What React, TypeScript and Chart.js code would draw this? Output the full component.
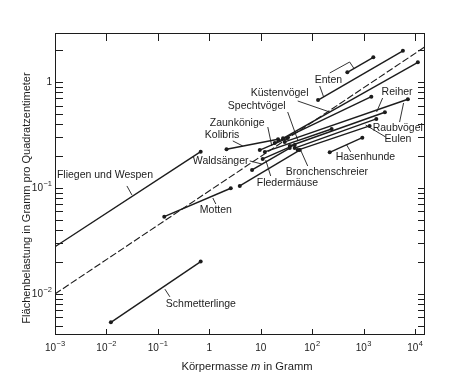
import { useEffect, useRef } from 'react';
import { Chart, registerables } from 'chart.js';

Chart.register(...registerables);

// ---- axis ticks ----
const xTickValues = [0.001, 0.01, 0.1, 1, 10, 100, 1000, 10000];
const xTickBase = ['10', '10', '10', '1', '10', '10', '10', '10'];
const xTickExp = ['−3', '−2', '−1', '', '', '2', '3', '4'];
const yTickValues = [0.01, 0.1, 1];
const yTickBase = ['10', '10', '1'];
const yTickExp = ['−2', '−1', ''];
const yMinorValues = [0.005, 0.006, 0.007, 0.008, 0.009, 0.02, 0.03, 0.04, 0.05, 0.06, 0.07, 0.08, 0.09, 0.2, 0.3, 0.4, 0.5, 0.6, 0.7, 0.8, 0.9, 2];

// ---- data: body mass (g) and wing loading (g/cm²) at the ends of each group line ----
const groupNames = [
  'Fliegen und Wespen', 'Schmetterlinge', 'Motten', 'Kolibris', 'Zaunkönige', 'Waldsänger',
  'Fledermäuse', 'Bronchenschreier', 'Küstenvögel', 'Spechtvögel', 'Spechtvögel 2', 'Raubvögel',
  'Reiher', 'Eulen', 'Eulen 2', 'Hasenhunde', 'Enten', 'Enten 2',
];
const groupMass = [
  [0.001, 0.68], [0.0122, 0.68], [0.133, 2.61], [2.16, 21.7], [9.57, 33.4], [10.9, 45.7],
  [3.91, 57.2], [6.78, 36.6], [27.1, 11330], [18.7, 1412], [12.0, 239], [29.2, 7250],
  [36.6, 2590], [45.7, 1765], [52.3, 1309], [219, 944], [130, 5800], [482, 1543],
];
const groupLoad = [
  [0.0279, 0.22], [0.0054, 0.0202], [0.0536, 0.0994], [0.232, 0.288], [0.228, 0.296], [0.188, 0.255],
  [0.1045, 0.228], [0.148, 0.238], [0.294, 1.535], [0.266, 0.727], [0.219, 0.36], [0.272, 0.687],
  [0.249, 0.518], [0.238, 0.448], [0.228, 0.385], [0.217, 0.298], [0.676, 1.97], [1.235, 1.71],
];
// first point of Fliegen und Wespen lies on the axis, no dot there
const groupStartDot = [false, true, true, true, true, true, true, true, true, true, true, true, true, true, true, true, true, true];

// dashed reference line
const refMass = [0.001, 15600];
const refLoad = [0.01, 2.15];

// ---- labels (left-anchored, in data coordinates) ----
const labelTexts = [
  'Fliegen und Wespen', 'Schmetterlinge', 'Motten', 'Waldsänger', 'Kolibris', 'Zaunkönige',
  'Spechtvögel', 'Küstenvögel', 'Enten', 'Reiher', 'Raubvögel', 'Eulen', 'Hasenhunde',
  'Bronchenschreier', 'Fledermäuse',
];
const labelMass = [0.00109, 0.143, 0.655, 0.479, 0.818, 1.02, 2.29, 6.39, 112, 2238, 1496, 2557, 286, 30.6, 8.36];
const labelLoad = [0.1327, 0.00805, 0.062, 0.18, 0.316, 0.41, 0.594, 0.787, 1.044, 0.805, 0.368, 0.29, 0.196, 0.1416, 0.1114];

// ---- leader lines (polyline points in data coordinates) ----
const leaderMass = [
  [0.025, 0.0313], [0.137, 0.171], [1.17, 1.337], [6.11, 10.45], [2.86, 4.47], [13.7, 16.4],
  [33.4, 52.3], [81.8, 57.2], [15.6, 12.5], [52.3, 219], [219, 535, 640], [140, 167],
  [2339, 1787], [5000, 5980], [2673, 1094], [560, 468],
];
const leaderLoad = [
  [0.1045, 0.0859], [0.0111, 0.0094], [0.0805, 0.0706], [0.18, 0.1684], [0.278, 0.249], [0.376, 0.249],
  [0.521, 0.284], [0.1613, 0.238], [0.1298, 0.1837], [0.662, 0.521], [1.216, 1.544, 1.355], [0.917, 0.722],
  [0.706, 0.521], [0.419, 0.634], [0.303, 0.393], [0.219, 0.255],
];

const INK = '#1c1c1c';
const FONT = '"Liberation Sans", Arial, Helvetica, sans-serif';

function drawPower(ctx: any, base: string, exp: string, x: number, y: number, align: 'center' | 'right') {
  ctx.font = `10px ${FONT}`;
  const wb = ctx.measureText(base).width;
  ctx.font = `7.5px ${FONT}`;
  const we = exp ? ctx.measureText(exp).width + 0.5 : 0;
  const w = wb + we;
  const x0 = align === 'center' ? x - w / 2 : x - w;
  ctx.textAlign = 'left';
  ctx.textBaseline = 'middle';
  ctx.font = `10px ${FONT}`;
  ctx.fillText(base, x0, y);
  if (exp) {
    ctx.font = `7.5px ${FONT}`;
    ctx.fillText(exp, x0 + wb + 0.5, y - 4);
  }
}

const annotPlugin = {
  id: 'annot',
  afterDatasetsDraw(chart: any) {
    const { ctx, chartArea: a, scales } = chart;
    const xs = scales.x;
    const ys = scales.y;
    ctx.save();
    ctx.strokeStyle = INK;
    ctx.fillStyle = INK;
    ctx.lineWidth = 1;
    // frame
    ctx.strokeRect(a.left + 0.5, a.top + 0.5, a.right - a.left - 1, a.bottom - a.top - 1);
    // x ticks (bottom & top, inward)
    ctx.beginPath();
    xTickValues.forEach((v) => {
      const px = Math.round(xs.getPixelForValue(v)) + 0.5;
      ctx.moveTo(px, a.bottom);
      ctx.lineTo(px, a.bottom - 6);
      ctx.moveTo(px, a.top);
      ctx.lineTo(px, a.top + 8);
    });
    // y ticks (left & right, inward)
    [...yTickValues, ...yMinorValues].forEach((v) => {
      const py = Math.round(ys.getPixelForValue(v)) + 0.5;
      ctx.moveTo(a.left, py);
      ctx.lineTo(a.left + 8, py);
      ctx.moveTo(a.right, py);
      ctx.lineTo(a.right - 7, py);
    });
    ctx.stroke();
    // tick labels
    xTickValues.forEach((v, i) => {
      drawPower(ctx, xTickBase[i], xTickExp[i], xs.getPixelForValue(v), a.bottom + 13, 'center');
    });
    yTickValues.forEach((v, i) => {
      drawPower(ctx, yTickBase[i], yTickExp[i], a.left - 3, ys.getPixelForValue(v), 'right');
    });
    // leaders
    ctx.lineWidth = 0.9;
    leaderMass.forEach((ms, i) => {
      ctx.beginPath();
      ms.forEach((m, j) => {
        const px = xs.getPixelForValue(m);
        const py = ys.getPixelForValue(leaderLoad[i][j]);
        if (j === 0) ctx.moveTo(px, py);
        else ctx.lineTo(px, py);
      });
      ctx.stroke();
    });
    // labels
    ctx.font = `10.5px ${FONT}`;
    ctx.textAlign = 'left';
    ctx.textBaseline = 'middle';
    labelTexts.forEach((t, i) => {
      ctx.fillText(t, xs.getPixelForValue(labelMass[i]), ys.getPixelForValue(labelLoad[i]));
    });
    // y title
    ctx.font = `11px ${FONT}`;
    ctx.textAlign = 'center';
    ctx.save();
    ctx.translate(a.left - 28, (a.top + a.bottom) / 2 + 14);
    ctx.rotate(-Math.PI / 2);
    ctx.fillText('Flächenbelastung in Gramm pro Quadratzentimeter', 0, 0);
    ctx.restore();
    // x title with italic m
    const parts = [
      { t: 'Körpermasse ', f: `11.2px ${FONT}` },
      { t: 'm', f: `italic 11.2px ${FONT}` },
      { t: ' in Gramm', f: `11.2px ${FONT}` },
    ];
    let total = 0;
    parts.forEach((p) => { ctx.font = p.f; total += ctx.measureText(p.t).width; });
    let cx = (a.left + a.right) / 2 + 7 - total / 2;
    const ty = a.bottom + 32;
    ctx.textAlign = 'left';
    parts.forEach((p) => {
      ctx.font = p.f;
      ctx.fillText(p.t, cx, ty);
      cx += ctx.measureText(p.t).width;
    });
    ctx.restore();
  },
};

export default function App() {
  const ref = useRef<HTMLCanvasElement | null>(null);
  useEffect(() => {
    if (!ref.current) return;
    const datasets: any[] = groupNames.map((name, i) => ({
      label: name,
      data: groupMass[i].map((m, j) => ({ x: m, y: groupLoad[i][j] })),
      borderColor: INK,
      borderWidth: 1.4,
      pointRadius: groupStartDot[i] ? 2 : [0, 2],
      pointBackgroundColor: INK,
      pointBorderWidth: 0,
      fill: false,
    }));
    datasets.push({
      label: 'Referenz',
      data: refMass.map((m, j) => ({ x: m, y: refLoad[j] })),
      borderColor: INK,
      borderWidth: 1.1,
      borderDash: [7, 2.5],
      pointRadius: 0,
      fill: false,
    });
    const chart = new Chart(ref.current, {
      type: 'line',
      data: { datasets },
      plugins: [annotPlugin],
      options: {
        animation: false,
        responsive: false,
        maintainAspectRatio: false,
        layout: { padding: { left: 0, right: 37, top: 33, bottom: 0 } },
        plugins: { legend: { display: false }, tooltip: { enabled: false } },
        scales: {
          x: {
            type: 'logarithmic',
            min: 0.001,
            max: 15600,
            bounds: 'data',
            grid: { display: false, drawTicks: false },
            border: { display: false },
            afterBuildTicks: (s: any) => { s.ticks = xTickValues.map((v) => ({ value: v })); },
            afterFit: (s: any) => { s.height = 56; },
            ticks: { display: false },
          },
          y: {
            type: 'logarithmic',
            min: 0.0041,
            max: 2.9,
            bounds: 'data',
            grid: { display: false, drawTicks: false },
            border: { display: false },
            afterBuildTicks: (s: any) => { s.ticks = yTickValues.map((v) => ({ value: v })); },
            afterFit: (s: any) => { s.width = 55; },
            ticks: { display: false },
          },
        },
      },
    });
    return () => chart.destroy();
  }, []);
  return (
    <div style={{ position: 'fixed', left: 0, top: 0, width: 462, height: 391, background: '#fff' }}>
      <canvas ref={ref} width={462} height={391} style={{ display: 'block' }} />
    </div>
  );
}
